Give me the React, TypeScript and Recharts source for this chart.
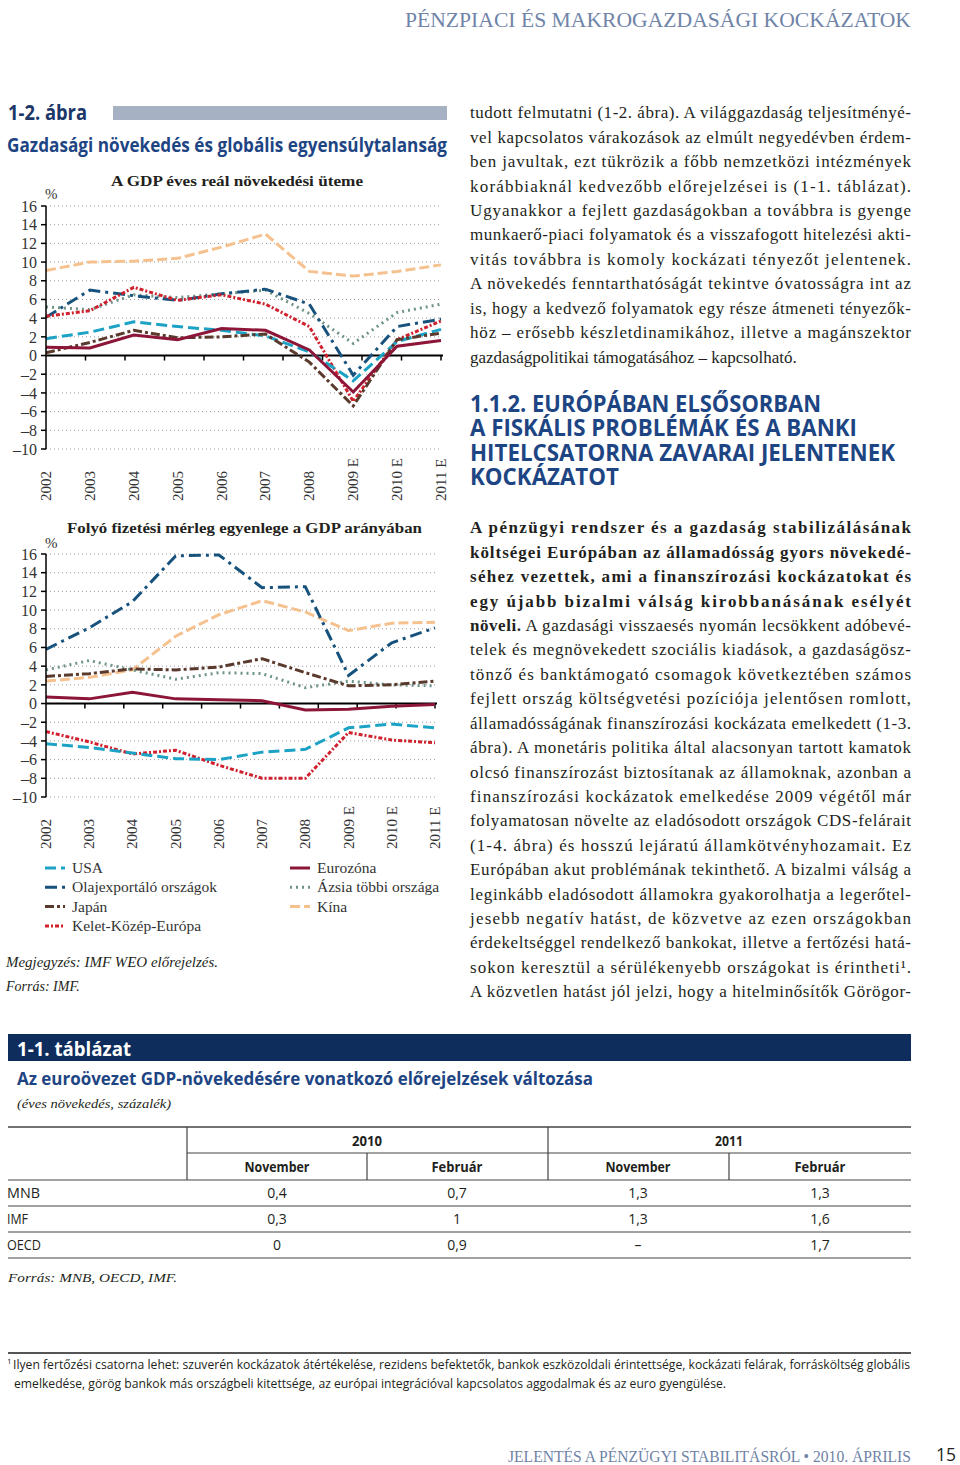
import React from "react";
import {
  LineChart,
  Line,
  XAxis,
  YAxis,
  CartesianGrid,
  ReferenceLine,
} from "recharts";

const years = ["2002", "2003", "2004", "2005", "2006", "2007", "2008", "2009 E", "2010 E", "2011 E"];
const yTicks = [-10, -8, -6, -4, -2, 0, 2, 4, 6, 8, 10, 12, 14, 16];

// GDP growth (%)
const gdpUsa = [1.8, 2.5, 3.6, 3.1, 2.7, 2.1, 0.4, -2.7, 1.5, 2.8];
const gdpOil = [4.1, 7.0, 6.4, 5.9, 6.6, 7.1, 5.5, -2.1, 3.1, 3.9];
const gdpJapan = [0.3, 1.4, 2.7, 1.9, 2.0, 2.3, -0.7, -5.4, 1.7, 2.4];
const gdpCee = [4.2, 4.8, 7.3, 5.9, 6.5, 5.5, 3.1, -4.9, 1.7, 3.7];
const gdpEuro = [0.9, 0.8, 2.2, 1.7, 2.9, 2.7, 0.6, -3.9, 1.0, 1.6];
const gdpAsia = [5.2, 4.9, 6.5, 6.2, 6.6, 7.0, 4.5, 1.3, 4.6, 5.5];
const gdpChina = [9.1, 10.0, 10.1, 10.4, 11.6, 13.0, 9.0, 8.5, 9.0, 9.7];

// current account balance, % of GDP
const caUsa = [-4.3, -4.7, -5.3, -5.9, -6.0, -5.2, -4.9, -2.6, -2.2, -2.6];
const caOil = [5.8, 8.1, 10.9, 15.8, 15.9, 12.4, 12.5, 3.0, 6.5, 8.1];
const caJapan = [2.9, 3.2, 3.7, 3.6, 3.9, 4.8, 3.3, 1.9, 2.0, 2.4];
const caCee = [-3.0, -4.1, -5.4, -5.0, -6.6, -8.0, -8.0, -3.1, -3.9, -4.2];
const caEuro = [0.7, 0.5, 1.2, 0.5, 0.4, 0.3, -0.7, -0.6, -0.3, -0.1];
const caAsia = [3.6, 4.6, 3.6, 2.6, 3.3, 3.2, 1.7, 2.4, 2.0, 1.9];
const caChina = [2.4, 2.8, 3.6, 7.2, 9.5, 11.0, 9.8, 7.8, 8.6, 8.7];

const SERIF = "'Liberation Serif', 'DejaVu Serif', serif";
const SANS = "'Open Sans', 'Liberation Sans', sans-serif";
const INK = "#231f20";
const NAVY = "#1e4583";

// drawing order: back to front
const series = [
  { key: "china", name: "Kína", color: "#f5c18f", dash: "10 4" },
  { key: "asia", name: "Ázsia többi országa", color: "#6f9487", dash: "2 4" },
  { key: "oil", name: "Olajexportáló országok", color: "#17527c", dash: "12 5 3 5" },
  { key: "cee", name: "Kelet-Közép-Európa", color: "#d0222e", dash: "4 2 2 2" },
  { key: "usa", name: "USA", color: "#1ca2c4", dash: "11 5" },
  { key: "japan", name: "Japán", color: "#5b3a2e", dash: "9 3 3 3" },
  { key: "euro", name: "Eurozóna", color: "#8c1538", dash: undefined },
];

const buildRows = (d: Record<string, number[]>) =>
  years.map((year, i) => ({
    year,
    usa: d.usa[i],
    oil: d.oil[i],
    japan: d.japan[i],
    cee: d.cee[i],
    euro: d.euro[i],
    asia: d.asia[i],
    china: d.china[i],
  }));

const gdpRows = buildRows({ usa: gdpUsa, oil: gdpOil, japan: gdpJapan, cee: gdpCee, euro: gdpEuro, asia: gdpAsia, china: gdpChina });
const caRows = buildRows({ usa: caUsa, oil: caOil, japan: caJapan, cee: caCee, euro: caEuro, asia: caAsia, china: caChina });

const fmtY = (v: number) => (v < 0 ? "\u2013" + Math.abs(v) : String(v));

const YearTick = (props: any) => {
  const { x, y, payload } = props;
  return (
    <text
      transform={`translate(${x + 5},${y + 52}) rotate(-90)`}
      fontSize={15}
      fontFamily={SERIF}
      fill="#333"
    >
      {payload.value}
    </text>
  );
};

// zero line with tick marks at the category boundaries
const ZeroLine = (props: any) => {
  const { x1, y1, x2 } = props;
  const step = (x2 - x1) / years.length;
  const marks = [];
  for (let i = 1; i <= years.length; i++) {
    const xx = x1 + i * step;
    marks.push(<line key={i} x1={xx} x2={xx} y1={y1} y2={y1 + 5} stroke="#000" strokeWidth={1.5} />);
  }
  return (
    <g>
      <line x1={x1} x2={x2 + 2} y1={y1} y2={y1} stroke="#000" strokeWidth={2} />
      {marks}
    </g>
  );
};

const Panel = ({ data, width, right }: { data: any[]; width: number; right: number }) => (
  <LineChart width={width} height={311} data={data} margin={{ top: 10, right, left: 0, bottom: 0 }}>
    <CartesianGrid vertical={false} stroke="#999" strokeDasharray="1 3" />
    <XAxis
      dataKey="year"
      interval={0}
      axisLine={false}
      tickLine={false}
      tickSize={0}
      tickMargin={0}
      height={58}
      tick={<YearTick />}
    />
    <YAxis
      domain={[-10, 16]}
      ticks={yTicks}
      interval={0}
      width={46}
      tickFormatter={fmtY}
      axisLine={{ stroke: "#000", strokeWidth: 1.5 }}
      tickLine={{ stroke: "#000", strokeWidth: 1.5 }}
      tickSize={5}
      tickMargin={4}
      tick={{ fontSize: 16, fontFamily: SERIF, fill: "#333" }}
    />
    <ReferenceLine y={0} shape={<ZeroLine />} />
    {series.map((s) => (
      <Line
        key={s.key}
        type="linear"
        dataKey={s.key}
        name={s.name}
        stroke={s.color}
        strokeWidth={3}
        strokeDasharray={s.dash}
        dot={false}
        activeDot={false}
        isAnimationActive={false}
      />
    ))}
  </LineChart>
);

const para1 = [
  "tudott felmutatni (1-2. ábra). A világgazdaság teljesítményé-",
  "vel kapcsolatos várakozások az elmúlt negyedévben érdem-",
  "ben javultak, ezt tükrözik a főbb nemzetközi intézmények",
  "korábbiaknál kedvezőbb előrejelzései is (1-1. táblázat).",
  "Ugyanakkor a fejlett gazdaságokban a továbbra is gyenge",
  "munkaerő-piaci folyamatok és a visszafogott hitelezési akti-",
  "vitás továbbra is komoly kockázati tényezőt jelentenek.",
  "A növekedés fenntarthatóságát tekintve óvatosságra int az",
  "is, hogy a kedvező folyamatok egy része átmeneti tényezők-",
  "höz – erősebb készletdinamikához, illetve a magánszektor",
  "gazdaságpolitikai támogatásához – kapcsolható.",
];

// [bold part, regular part]
const para2 = [
  ["A pénzügyi rendszer és a gazdaság stabilizálásának", ""],
  ["költségei Európában az államadósság gyors növekedé-", ""],
  ["séhez vezettek, ami a finanszírozási kockázatokat és", ""],
  ["egy újabb bizalmi válság kirobbanásának esélyét", ""],
  ["növeli.", " A gazdasági visszaesés nyomán lecsökkent adóbevé-"],
  ["", "telek és megnövekedett szociális kiadások, a gazdaságösz-"],
  ["", "tönző és banktámogató csomagok következtében számos"],
  ["", "fejlett ország költségvetési pozíciója jelentősen romlott,"],
  ["", "államadósságának finanszírozási kockázata emelkedett (1-3."],
  ["", "ábra). A monetáris politika által alacsonyan tartott kamatok"],
  ["", "olcsó finanszírozást biztosítanak az államoknak, azonban a"],
  ["", "finanszírozási kockázatok emelkedése 2009 végétől már"],
  ["", "folyamatosan növelte az eladósodott országok CDS-felárait"],
  ["", "(1-4. ábra) és hosszú lejáratú államkötvényhozamait. Ez"],
  ["", "Európában akut problémának tekinthető. A bizalmi válság a"],
  ["", "leginkább eladósodott államokra gyakorolhatja a legerőtel-"],
  ["", "jesebb negatív hatást, de közvetve az ezen országokban"],
  ["", "érdekeltséggel rendelkező bankokat, illetve a fertőzési hatá-"],
  ["", "sokon keresztül a sérülékenyebb országokat is érintheti¹."],
  ["", "A közvetlen hatást jól jelzi, hogy a hitelminősítők Görögor-"],
];

const heading = [
  { t: "1.1.2. EURÓPÁBAN ELSŐSORBAN", w: 351 },
  { t: "A FISKÁLIS PROBLÉMÁK ÉS A BANKI", w: 387 },
  { t: "HITELCSATORNA ZAVARAI JELENTENEK", w: 425 },
  { t: "KOCKÁZATOT", w: 149 },
];

const legendLeft = ["usa", "oil", "japan", "cee"];
const legendRight = ["euro", "asia", "china"];

const tableCols = ["November", "Február", "November", "Február"];
const tableRows = [
  { label: "MNB", w: 33, values: ["0,4", "0,7", "1,3", "1,3"] },
  { label: "IMF", w: 21, values: ["0,3", "1", "1,3", "1,6"] },
  { label: "OECD", w: 34, values: ["0", "0,9", "–", "1,7"] },
];
const colCenters = [277, 457, 638, 820];

const LINE_H = 24.42;

export default function App() {
  const legendItem = (key: string, x: number, y: number) => {
    const s = series.find((q) => q.key === key)!;
    return (
      <g key={key}>
        <line x1={x} x2={x + 20} y1={y - 5} y2={y - 5} stroke={s.color} strokeWidth={3} strokeDasharray={s.dash} />
        <text x={x + 27} y={y} fontSize={15.5} fontFamily={SERIF} fill="#333">
          {s.name}
        </text>
      </g>
    );
  };

  return (
    <div style={{ position: "absolute", left: 0, top: 0, width: 960, height: 1465, background: "#fff", overflow: "hidden" }}>
      <svg width={960} height={1465} style={{ position: "absolute", left: 0, top: 0 }}>
        {/* running header */}
        <text x={405} y={27} fontSize={21} fontFamily={SERIF} fill="#7084a8" textLength={506} lengthAdjust="spacingAndGlyphs">
          PÉNZPIACI ÉS MAKROGAZDASÁGI KOCKÁZATOK
        </text>

        {/* figure caption */}
        <text x={8} y={120} fontSize={22} fontWeight={700} fontFamily={SANS} fill="#1b3868" textLength={79} lengthAdjust="spacingAndGlyphs">
          1-2. ábra
        </text>
        <rect x={113} y={106} width={334} height={14} fill="#a6b1c4" />
        <text x={7} y={152} fontSize={19} fontWeight={700} fontFamily={SANS} fill={NAVY} textLength={440} lengthAdjust="spacingAndGlyphs">
          Gazdasági növekedés és globális egyensúlytalanság
        </text>

        <text x={111} y={186} fontSize={15} fontWeight={700} fontFamily={SERIF} fill={INK} textLength={252} lengthAdjust="spacingAndGlyphs">
          A GDP éves reál növekedési üteme
        </text>
        <text x={45} y={199} fontSize={15} fontFamily={SERIF} fill="#333">%</text>

        <text x={67} y={533} fontSize={15} fontWeight={700} fontFamily={SERIF} fill={INK} textLength={355} lengthAdjust="spacingAndGlyphs">
          Folyó fizetési mérleg egyenlege a GDP arányában
        </text>
        <text x={45} y={548} fontSize={15} fontFamily={SERIF} fill="#333">%</text>

        {/* legend */}
        {legendLeft.map((k, i) => legendItem(k, 45, 873 + i * 19.3))}
        {legendRight.map((k, i) => legendItem(k, 290, 873 + i * 19.3))}

        <text x={6} y={967} fontSize={14} fontStyle="italic" fontFamily={SERIF} fill={INK} textLength={212} lengthAdjust="spacingAndGlyphs">
          Megjegyzés: IMF WEO előrejelzés.
        </text>
        <text x={6} y={991} fontSize={14} fontStyle="italic" fontFamily={SERIF} fill={INK}>
          Forrás: IMF.
        </text>

        {/* body text, justified line by line */}
        {para1.map((l, i) => (
          <text
            key={"p1" + i}
            x={470}
            y={118.3 + i * LINE_H}
            fontSize={17}
            fontFamily={SERIF}
            fill={INK}
            textLength={i === para1.length - 1 ? undefined : 441}
            lengthAdjust="spacing"
          >
            {l}
          </text>
        ))}
        {para2.map((l, i) => (
          <text
            key={"p2" + i}
            x={470}
            y={533.3 + i * LINE_H}
            fontSize={17}
            fontFamily={SERIF}
            fill={INK}
            textLength={441}
            lengthAdjust="spacing"
          >
            {l[0] ? <tspan fontWeight={700}>{l[0]}</tspan> : null}
            {l[1] ? <tspan>{l[1]}</tspan> : null}
          </text>
        ))}

        {/* section heading */}
        {heading.map((h, i) => (
          <text key={i} x={470} y={412 + i * 24.4} fontSize={24} fontWeight={700} fontFamily={SANS} fill={NAVY} textLength={h.w} lengthAdjust="spacingAndGlyphs">
            {h.t}
          </text>
        ))}

        {/* table */}
        <rect x={8} y={1034} width={903} height={27} fill="#0f2d5c" />
        <text x={17} y={1056} fontSize={20} fontWeight={700} fontFamily={SANS} fill="#fff" textLength={114} lengthAdjust="spacingAndGlyphs">
          1-1. táblázat
        </text>
        <text x={17} y={1085} fontSize={18} fontWeight={700} fontFamily={SANS} fill={NAVY} textLength={576} lengthAdjust="spacingAndGlyphs">
          Az euroövezet GDP-növekedésére vonatkozó előrejelzések változása
        </text>
        <text x={17} y={1108} fontSize={13} fontStyle="italic" fontFamily={SERIF} fill={INK} textLength={154} lengthAdjust="spacingAndGlyphs">
          (éves növekedés, százalék)
        </text>
        <line x1={8} x2={911} y1={1127} y2={1127} stroke="#444" strokeWidth={1.5} />
        <line x1={187} x2={911} y1={1153} y2={1153} stroke="#444" strokeWidth={1.2} />
        {[1180, 1206, 1232, 1258].map((y) => (
          <line key={y} x1={8} x2={911} y1={y} y2={y} stroke="#444" strokeWidth={1.2} />
        ))}
        <line x1={187} x2={187} y1={1127} y2={1180} stroke="#444" strokeWidth={1.2} />
        <line x1={548} x2={548} y1={1127} y2={1180} stroke="#444" strokeWidth={1.2} />
        <line x1={367} x2={367} y1={1153} y2={1180} stroke="#444" strokeWidth={1.2} />
        <line x1={729} x2={729} y1={1153} y2={1180} stroke="#444" strokeWidth={1.2} />
        <text x={367} y={1146} fontSize={14} fontWeight={700} fontFamily={SANS} fill={INK} textAnchor="middle" textLength={30} lengthAdjust="spacingAndGlyphs">2010</text>
        <text x={729} y={1146} fontSize={14} fontWeight={700} fontFamily={SANS} fill={INK} textAnchor="middle" textLength={28} lengthAdjust="spacingAndGlyphs">2011</text>
        {tableCols.map((c, i) => (
          <text key={i} x={colCenters[i]} y={1172} fontSize={14} fontWeight={700} fontFamily={SANS} fill={INK} textAnchor="middle" textLength={c === "November" ? 65 : 51} lengthAdjust="spacingAndGlyphs">
            {c}
          </text>
        ))}
        {tableRows.map((r, ri) => (
          <g key={r.label}>
            <text x={7} y={1198 + ri * 26} fontSize={14} fontFamily={SANS} fill={INK} textLength={r.w} lengthAdjust="spacingAndGlyphs">
              {r.label}
            </text>
            {r.values.map((v, i) => (
              <text key={i} x={colCenters[i]} y={1198 + ri * 26} fontSize={14} fontFamily={SANS} fill={INK} textAnchor="middle">
                {v}
              </text>
            ))}
          </g>
        ))}
        <text x={8} y={1282} fontSize={13.5} fontStyle="italic" fontFamily={SERIF} fill={INK} textLength={169} lengthAdjust="spacingAndGlyphs">
          Forrás: MNB, OECD, IMF.
        </text>

        {/* footnote */}
        <line x1={8} x2={911} y1={1353} y2={1353} stroke="#555" strokeWidth={2} />
        <text x={7} y={1364} fontSize={8} fontFamily={SANS} fill={INK}>1</text>
        <text x={13} y={1369} fontSize={12.5} fontFamily={SANS} fill={INK} textLength={897} lengthAdjust="spacingAndGlyphs">
          Ilyen fertőzési csatorna lehet: szuverén kockázatok átértékelése, rezidens befektetők, bankok eszközoldali érintettsége, kockázati felárak, forrásköltség globális
        </text>
        <text x={14} y={1388} fontSize={12.5} fontFamily={SANS} fill={INK} textLength={712} lengthAdjust="spacingAndGlyphs">
          emelkedése, görög bankok más országbeli kitettsége, az európai integrációval kapcsolatos aggodalmak és az euro gyengülése.
        </text>

        {/* running footer */}
        <g transform="translate(508,1462) scale(1,1.22)">
          <text x={0} y={0} fontSize={14} fontFamily={SERIF} fill="#6f83a6" textLength={403} lengthAdjust="spacingAndGlyphs">
            JELENTÉS A PÉNZÜGYI STABILITÁSRÓL • 2010. ÁPRILIS
          </text>
        </g>
        <text x={936} y={1461} fontSize={19} fontFamily={SANS} fill={INK} textLength={20} lengthAdjust="spacingAndGlyphs">
          15
        </text>
      </svg>

      {/* charts */}
      <div style={{ position: "absolute", left: 0, top: 196 }}>
        <Panel data={gdpRows} width={454} right={13} />
      </div>
      <div style={{ position: "absolute", left: 0, top: 544 }}>
        <Panel data={caRows} width={448} right={13} />
      </div>
    </div>
  );
}
